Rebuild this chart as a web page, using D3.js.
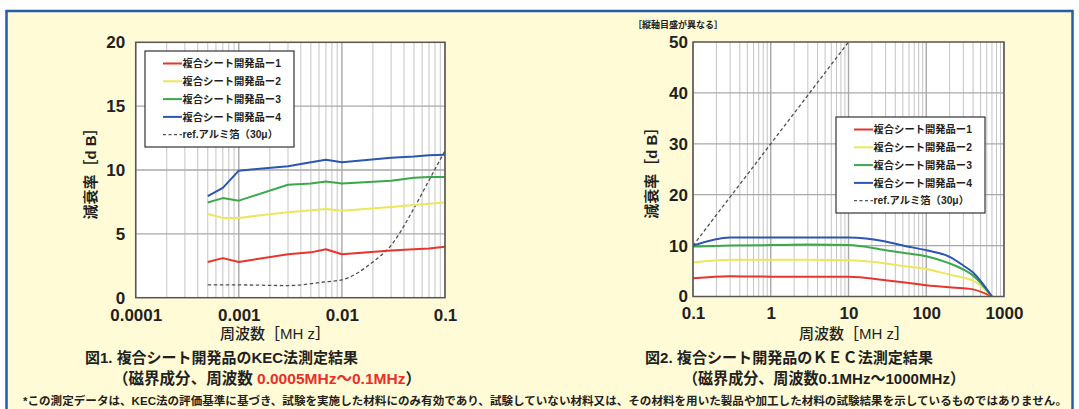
<!DOCTYPE html>
<html>
<head>
<meta charset="utf-8">
<script src="https://cdn.jsdelivr.net/npm/d3@7"></script>
<style>
body{margin:0;background:#fff;}
svg text{font-family:'Liberation Sans','Noto Sans CJK JP',sans-serif;fill:#231f20;}
</style>
</head>
<body>
<div id="chart"></div>
<script>

////////////////////////////////////////
// data
////////////////////////////////////////

var seriesNames = ['複合シート開発品ー1','複合シート開発品ー2','複合シート開発品ー3','複合シート開発品ー4'];
var refName = 'ref.アルミ箔（30μ）';
var seriesColors = ['#e8342c','#ece65a','#3ba84b','#2b57ae'];

// 図1 : 0.0005MHz ~ 0.1MHz
var fig1_freq = [0.0005,0.0007,0.001,0.003,0.005,0.007,0.01,0.03,0.05,0.07,0.1];
var fig1_s1 = [2.8,3.1,2.8,3.4,3.55,3.8,3.4,3.7,3.8,3.85,4.0];
var fig1_s2 = [6.55,6.25,6.25,6.7,6.85,6.95,6.8,7.1,7.25,7.35,7.45];
var fig1_s3 = [7.45,7.8,7.6,8.85,8.95,9.1,8.95,9.15,9.4,9.45,9.45];
var fig1_s4 = [7.95,8.6,9.95,10.3,10.6,10.8,10.6,10.95,11.05,11.15,11.2];
var fig1_refFreq = [0.0005,0.001,0.003,0.007,0.01,0.02,0.03,0.05,0.07,0.1];
var fig1_ref = [1.0,1.0,0.95,1.25,1.4,2.8,4.1,7.0,9.2,11.5];
var fig1_yTicks = [0,5,10,15,20];
var fig1_xTicks = [0.0001,0.001,0.01,0.1];
var fig1_xLabels = ['0.0001','0.001','0.01','0.1'];

// 図2 : 0.1MHz ~ 1000MHz
var fig2_freq = [0.1,0.3,1,3,10,30,50,100,200,300,400,700];
var fig2_s1 = [3.6,4.0,3.9,3.9,3.9,3.2,2.8,2.2,1.8,1.6,1.4,0];
var fig2_s2 = [6.7,7.2,7.2,7.2,7.1,6.5,6.0,5.4,4.3,3.7,3.1,0];
var fig2_s3 = [9.8,10.0,10.1,10.2,10.1,9.1,8.6,7.9,6.5,5.3,4.1,0];
var fig2_s4 = [10.0,11.6,11.6,11.6,11.6,10.8,10.0,9.1,7.8,6.1,4.7,0];
var fig2_refFreq = [0.1,1,10];
var fig2_ref = [10,30,50];
var fig2_yTicks = [0,10,20,30,40,50];
var fig2_xTicks = [0.1,1,10,100,1000];
var fig2_xLabels = ['0.1','1','10','100','1000'];

////////////////////////////////////////
////////////////////////////////////////

var W = 1079, H = 409;

var svg = d3.select('#chart')
	.append('svg')
	.attr('width',W)
	.attr('height',H);

// panel background + blue frame
svg.append('rect')
	.attr('x',6.5)
	.attr('y',11)
	.attr('width',1066)
	.attr('height',440)
	.attr('fill','#fffbd6')
	.attr('stroke','#245ea8')
	.attr('stroke-width',2.5);

////////////////////////////////////////
////////////////////////////////////////

function zip(fs,vs){
	return fs.map(function(f,i){ return [f,vs[i]]; });
}

function drawChart(cfg){
	var g = svg.append('g');

	var x = d3.scaleLog().domain(cfg.xDomain).range([cfg.left,cfg.right]);
	var y = d3.scaleLinear().domain(cfg.yDomain).range([cfg.bottom,cfg.top]);

	g.append('rect')
		.attr('x',cfg.left)
		.attr('y',cfg.top)
		.attr('width',cfg.right-cfg.left)
		.attr('height',cfg.bottom-cfg.top)
		.attr('fill','#fff');

	// vertical log grid
	g.selectAll('line.vgrid')
		.data(x.ticks())
		.enter()
			.append('line')
			.attr('class','vgrid')
			.attr('x1',function(d){ return x(d); })
			.attr('x2',function(d){ return x(d); })
			.attr('y1',cfg.top)
			.attr('y2',cfg.bottom)
			.attr('stroke',function(d){
				var l = Math.log10(d);
				return Math.abs(l-Math.round(l))<1e-6 ? '#a9a9a9' : '#c4c4c4';
			})
			.attr('stroke-width',function(d){
				var l = Math.log10(d);
				return Math.abs(l-Math.round(l))<1e-6 ? 1.4 : 1;
			});

	// horizontal grid
	g.selectAll('line.hgrid')
		.data(cfg.yTicks.slice(1,-1))
		.enter()
			.append('line')
			.attr('class','hgrid')
			.attr('x1',cfg.left)
			.attr('x2',cfg.right)
			.attr('y1',function(d){ return y(d); })
			.attr('y2',function(d){ return y(d); })
			.attr('stroke','#a9a9a9')
			.attr('stroke-width',1.3);

	var clipId = 'clip_'+cfg.id;
	g.append('clipPath')
		.attr('id',clipId)
		.append('rect')
		.attr('x',cfg.left)
		.attr('y',cfg.top)
		.attr('width',cfg.right-cfg.left)
		.attr('height',cfg.bottom-cfg.top);

	var line = d3.line()
		.x(function(d){ return x(d[0]); })
		.y(function(d){ return y(d[1]); });

	var lines = g.append('g').attr('clip-path','url(#'+clipId+')');

	lines.append('path')
		.datum(cfg.ref)
		.attr('d',line.curve(d3.curveMonotoneX))
		.attr('fill','none')
		.attr('stroke','#505050')
		.attr('stroke-width',1.3)
		.attr('stroke-dasharray','3.5,2.5');

	lines.selectAll('path.series')
		.data(cfg.series)
		.enter()
			.append('path')
			.attr('class','series')
			.attr('d',function(d){ return line.curve(cfg.curve)(d); })
			.attr('fill','none')
			.attr('stroke',function(d,i){ return seriesColors[i]; })
			.attr('stroke-width',2)
			.attr('stroke-linejoin','round');

	// frame
	g.append('rect')
		.attr('x',cfg.left)
		.attr('y',cfg.top)
		.attr('width',cfg.right-cfg.left)
		.attr('height',cfg.bottom-cfg.top)
		.attr('fill','none')
		.attr('stroke','#555')
		.attr('stroke-width',1.5);

	// axes (labels only)
	var yAxis = g.append('g')
		.attr('transform','translate('+(cfg.left-cfg.yGap)+',0)')
		.call(d3.axisLeft(y).tickValues(cfg.yTicks).tickSize(0).tickPadding(0));
	var xAxis = g.append('g')
		.attr('transform','translate(0,'+cfg.bottom+')')
		.call(d3.axisBottom(x).tickValues(cfg.xTicks).tickSize(0).tickPadding(cfg.xGap)
			.tickFormat(function(d,i){ return cfg.xLabels[i]; }));
	[yAxis,xAxis].forEach(function(a){
		a.select('.domain').remove();
		a.selectAll('text')
			.attr('font-size',17)
			.attr('font-weight','bold')
			.attr('fill','#2a2a2a');
	});

	// axis titles
	g.append('text')
		.attr('transform','translate('+cfg.yTitleX+','+((cfg.top+cfg.bottom)/2)+') rotate(-90)')
		.attr('text-anchor','middle')
		.attr('dy','0.35em')
		.attr('font-size',15)
		.attr('font-weight','bold')
		.text('減衰率［d B］');

	g.append('text')
		.attr('x',cfg.xTitleX)
		.attr('y',339)
		.attr('text-anchor','middle')
		.attr('font-size',15)
		.attr('font-weight','500')
		.text('周波数［MH z］');

	// legend
	var lg = g.append('g').attr('transform','translate('+cfg.legend[0]+','+cfg.legend[1]+')');
	lg.append('rect')
		.attr('width',149)
		.attr('height',96)
		.attr('fill','#fff')
		.attr('stroke','#333')
		.attr('stroke-width',1.2);

	var items = seriesNames.concat([refName]);
	var row = lg.selectAll('g.item')
		.data(items)
		.enter()
			.append('g')
			.attr('class','item')
			.attr('transform',function(d,i){ return 'translate(0,'+(12.5+i*17.8)+')'; });
	row.append('line')
		.attr('x1',18)
		.attr('x2',37)
		.attr('stroke',function(d,i){ return i<4 ? seriesColors[i] : '#555'; })
		.attr('stroke-width',function(d,i){ return i<4 ? 2 : 1.2; })
		.attr('stroke-dasharray',function(d,i){ return i<4 ? null : '3,2.5'; });
	row.append('text')
		.attr('x',37.5)
		.attr('dy','0.36em')
		.attr('font-size',10.3)
		.attr('font-weight','bold')
		.attr('fill','#333')
		.text(function(d){ return d; });
}

////////////////////////////////////////
////////////////////////////////////////

drawChart({
	id:'fig1',
	left:135.7, right:445, top:42.3, bottom:297.7,
	xDomain:[0.0001,0.1], yDomain:[0,20],
	yTicks:fig1_yTicks, xTicks:fig1_xTicks, xLabels:fig1_xLabels,
	yGap:10.5, xGap:11,
	yTitleX:91, xTitleX:275,
	legend:[145,51],
	curve:d3.curveLinear,
	series:[zip(fig1_freq,fig1_s1),zip(fig1_freq,fig1_s2),zip(fig1_freq,fig1_s3),zip(fig1_freq,fig1_s4)],
	ref:zip(fig1_refFreq,fig1_ref)
});

drawChart({
	id:'fig2',
	left:693, right:1004, top:42, bottom:296.5,
	xDomain:[0.1,1000], yDomain:[0,50],
	yTicks:fig2_yTicks, xTicks:fig2_xTicks, xLabels:fig2_xLabels,
	yGap:5, xGap:10,
	yTitleX:652, xTitleX:854,
	legend:[836,117],
	curve:d3.curveMonotoneX,
	series:[zip(fig2_freq,fig2_s1),zip(fig2_freq,fig2_s2),zip(fig2_freq,fig2_s3),zip(fig2_freq,fig2_s4)],
	ref:zip(fig2_refFreq,fig2_ref)
});

svg.append('text')
	.attr('x',633)
	.attr('y',28)
	.attr('font-size',9)
	.attr('font-weight','bold')
	.attr('fill','#333')
	.text('［縦軸目盛が異なる］');

////////////////////////////////////////
// captions
////////////////////////////////////////

svg.append('text')
	.attr('x',85)
	.attr('y',363)
	.attr('font-size',15)
	.attr('font-weight','bold')
	.attr('textLength',273)
	.attr('lengthAdjust','spacingAndGlyphs')
	.text('図1. 複合シート開発品のKEC法測定結果');

var cap1b = svg.append('text')
	.attr('x',113)
	.attr('y',384)
	.attr('font-size',15.5)
	.attr('font-weight','bold')
	.attr('textLength',308)
	.attr('lengthAdjust','spacingAndGlyphs');
cap1b.append('tspan').text('（磁界成分、周波数 ');
cap1b.append('tspan').style('fill','#e8302a').text('0.0005MHz～0.1MHz');
cap1b.append('tspan').text('）');

svg.append('text')
	.attr('x',645)
	.attr('y',363)
	.attr('font-size',15)
	.attr('font-weight','bold')
	.attr('textLength',288)
	.attr('lengthAdjust','spacingAndGlyphs')
	.text('図2. 複合シート開発品のＫＥＣ法測定結果');

svg.append('text')
	.attr('x',683)
	.attr('y',384)
	.attr('font-size',15.5)
	.attr('font-weight','bold')
	.attr('textLength',282)
	.attr('lengthAdjust','spacingAndGlyphs')
	.text('（磁界成分、周波数0.1MHz～1000MHz）');

svg.append('text')
	.attr('x',23)
	.attr('y',405)
	.attr('font-size',11.3)
	.attr('font-weight','bold')
	.attr('textLength',1044)
	.attr('lengthAdjust','spacingAndGlyphs')
	.text('*この測定データは、KEC法の評価基準に基づき、試験を実施した材料にのみ有効であり、試験していない材料又は、その材料を用いた製品や加工した材料の試験結果を示しているものではありません。');

</script>
</body>
</html>
